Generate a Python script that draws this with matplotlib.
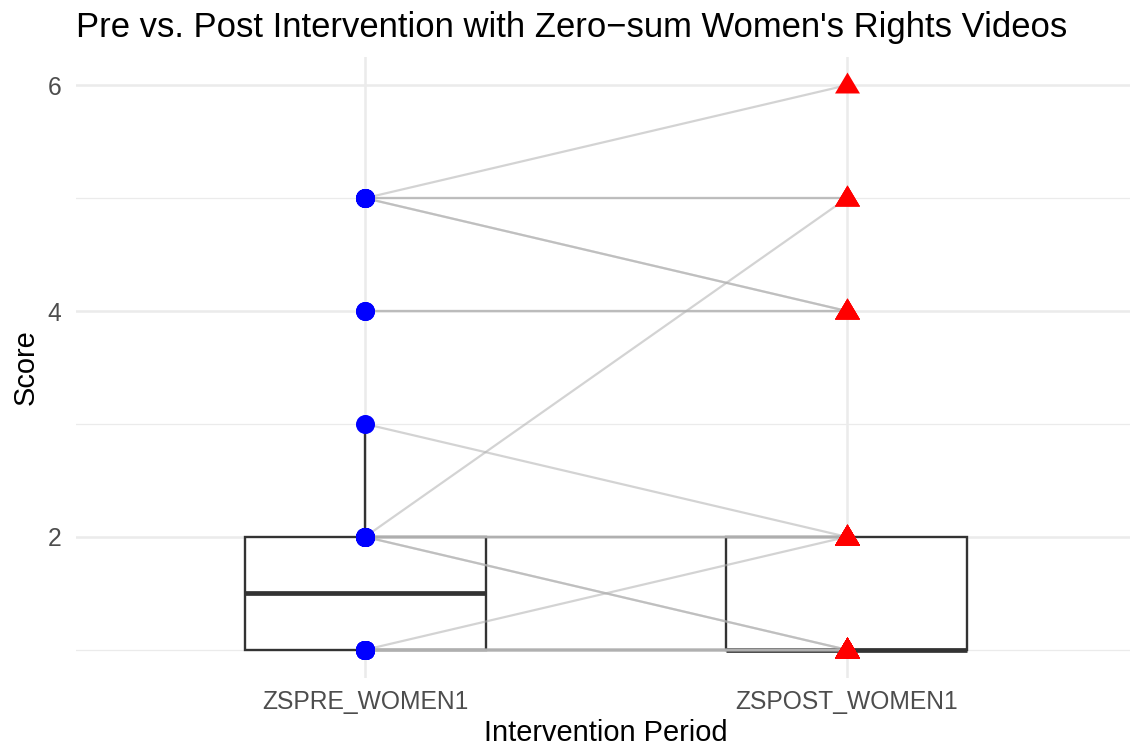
import matplotlib
matplotlib.use("Agg")
import matplotlib.pyplot as plt
import numpy as np

# paired scores, one entry per participant (pre, post)
pre_scores = [5, 5, 5, 5, 5, 4, 4, 3, 2,
              2, 2, 2, 2, 2, 2,
              2, 2,
              1,
              1, 1, 1, 1, 1, 1, 1, 1, 1, 1, 1, 1, 1, 1, 1, 1]
post_scores = [6, 5, 5, 4, 4, 4, 4, 2, 5,
               2, 2, 2, 2, 2, 2,
               1, 1,
               2,
               1, 1, 1, 1, 1, 1, 1, 1, 1, 1, 1, 1, 1, 1, 1, 1]
periods = ["ZSPRE_WOMEN1", "ZSPOST_WOMEN1"]
y_ticks = [2, 4, 6]

plt.rcParams['font.family'] = ['Liberation Sans', 'DejaVu Sans']

fig = plt.figure(figsize=(11.3, 7.47), dpi=100)
W, H = 1130, 747
# panel runs past the right edge, like the ggplot panel does
ax = fig.add_axes([76 / W, (H - 678) / H, (1136 - 76) / W, (678 - 57) / H])

for s in ax.spines.values():
    s.set_visible(False)

# grid like theme_minimal
grid_c = "#ebebeb"
for y in y_ticks:
    ax.axhline(y, color=grid_c, lw=1.8, zorder=0)
for y in [1, 3, 5]:
    ax.axhline(y, color=grid_c, lw=0.9, zorder=0)
for x in [1, 2]:
    ax.axvline(x, color=grid_c, lw=1.8, zorder=0)

box_c = "#333333"
ax.boxplot([pre_scores, post_scores], positions=[1, 2], widths=0.5,
           showfliers=False, showcaps=False, whis=1.5, patch_artist=True,
           boxprops=dict(facecolor="white", edgecolor=box_c, linewidth=1.7),
           whiskerprops=dict(color=box_c, linewidth=1.7),
           medianprops=dict(color=box_c, linewidth=3.4),
           zorder=2)

# paired lines
for a, b in zip(pre_scores, post_scores):
    ax.plot([1, 2], [a, b], color="#b0b0b0", alpha=0.55, lw=1.6,
            solid_capstyle="butt", zorder=3)

tri = [(-12.5, -8), (12.5, -8), (0, 13), (-12.5, -8)]
ax.plot(np.ones(len(pre_scores)), pre_scores, "o", color="#0000ff",
        markersize=13.7, markeredgewidth=0, zorder=4)
ax.plot(np.full(len(post_scores), 2), post_scores, linestyle="none",
        marker=tri, color="#ff0000", markersize=18.7, markeredgewidth=0,
        zorder=4)

ax.set_xlim(0.4, 2.6)
ax.set_ylim(0.75, 6.25)
ax.set_xticks([1, 2])
ax.set_xticklabels(periods)
ax.set_yticks(y_ticks)
ax.tick_params(length=0, labelsize=17.7, labelcolor="#4d4d4d")
ax.tick_params(axis="x", pad=8.8)
ax.tick_params(axis="y", pad=10.5)

ax.set_xlabel("Intervention Period", fontsize=20.9, labelpad=3.4)
ax.set_ylabel("Score", fontsize=20.9, labelpad=5.4)
ax.set_title("Pre vs. Post Intervention with Zero\u2212sum Women's Rights Videos",
             loc="left", fontsize=24.9, pad=14.5)

fig.savefig("out.png", dpi=100, facecolor="white")
